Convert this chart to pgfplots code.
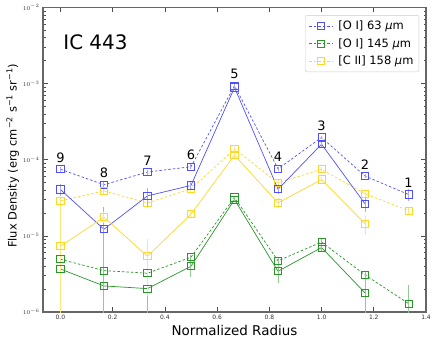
\documentclass[border=0pt]{standalone}
\usepackage{fontspec}
\setmainfont{DejaVu Sans}
\usepackage{pgfplots}
\pgfplotsset{compat=1.18}
\definecolor{cB}{RGB}{80,80,255}
\definecolor{cG}{RGB}{40,150,40}
\definecolor{cY}{RGB}{255,215,40}

\begin{document}
\begin{tikzpicture}
\begin{axis}[
  scale only axis, width=383bp, height=304.5bp,
  ymode=log, ymin=1e-6, ymax=1e-2,
  xmin=-0.0667, xmax=1.4,
  xtick={0,0.2,0.4,0.6,0.8,1.0,1.2,1.4},
  xticklabel style={/pgf/number format/.cd, fixed, fixed zerofill, precision=1, assume math mode=true},
  tick label style={font=\fontsize{6}{7}\selectfont, color=black!80},
  tick align=inside, major tick length=5bp, minor tick length=2.5bp,
  axis line style={black!60, line width=1.1bp},
  every tick/.style={black!70, line width=0.6bp},
  xlabel={Normalized Radius},
  ylabel={Flux Density (erg cm\textsuperscript{−2} s\textsuperscript{−1} sr\textsuperscript{−1})},
  xlabel style={font=\fontsize{13.5}{15}\selectfont, yshift=2bp},
  ylabel style={font=\fontsize{11.5}{14}\selectfont, yshift=-3bp, xshift=4bp},
  legend style={at={(0.982,0.975)}, anchor=north east, draw=black!20, rounded corners=2bp,
    font=\fontsize{11.5}{13}\selectfont, row sep=3.5bp, inner sep=3.5bp, column sep=3bp},
  legend cell align=left,
  legend image code/.code={\draw[#1, mark repeat=2, mark phase=2] plot coordinates {(0bp,0bp) (12bp,0bp) (24bp,0bp)};},
  error bars/y dir=both, error bars/y explicit, error bars/error mark=none,
  every axis plot/.append style={line width=0.7bp, mark=square, mark size=3.6bp,
    mark options={solid, line width=0.9bp, fill=none}},
]
% [O I] 63 um, dotted
\addplot[cB, dash pattern=on 2.5bp off 2bp, error bars/error bar style={cB!50, line width=1bp, solid}] coordinates {
 (0,7.5e-5) +- (0,0.5e-5)
 (0.16667,4.7e-5) +- (0,0.4e-5)
 (0.33333,6.9e-5) +- (0,0.5e-5)
 (0.5,8.1e-5) +- (0,0.6e-5)
 (0.66667,9.4e-4) +- (0,0.5e-4)
 (0.83333,7.6e-5) +- (0,0.5e-5)
 (1.0,1.96e-4) +- (0,0.1e-4)
 (1.16667,6.1e-5) +- (0,0.4e-5)
 (1.33333,3.5e-5) +- (0,0.6e-5)
};
\addlegendentry{[O I] 63 \textit{μ}m}
% [O I] 145 um, dotted
\addplot[cG, dash pattern=on 2.5bp off 2bp, error bars/error bar style={cG!50, line width=1bp, solid}] coordinates {
 (0,4.93e-6) +- (0,0.3e-6)
 (0.16667,3.5e-6) +- (0,0.5e-6)
 (0.33333,3.23e-6) +- (0,0.4e-6)
 (0.5,5.24e-6) +- (0,0.4e-6)
 (0.66667,3.19e-5) +- (0,0.2e-5)
 (0.83333,4.7e-6) +- (0,0.6e-6)
 (1.0,8.3e-6) +- (0,0.8e-6)
 (1.16667,3.07e-6) +- (0,0.4e-6)
 (1.33333,1.29e-6) +- (0,0.95e-6)
};
\addlegendentry{[O I] 145 \textit{μ}m}
% [C II] 158 um, dotted
\addplot[cY, dash pattern=on 2.5bp off 2bp, error bars/error bar style={cY!60, line width=1bp, solid}] coordinates {
 (0,2.88e-5) +- (0,0.3e-5)
 (0.16667,3.9e-5) +- (0,0.3e-5)
 (0.33333,2.71e-5) +- (0,0.4e-5)
 (0.5,4.14e-5) +- (0,0.3e-5)
 (0.66667,1.38e-4) +- (0,0.1e-4)
 (0.83333,4.97e-5) +- (0,0.4e-5)
 (1.0,7.5e-5) +- (0,0.5e-5)
 (1.16667,3.56e-5) +- (0,0.4e-5)
 (1.33333,2.15e-5) +- (0,0.2e-5)
};
\addlegendentry{[C II] 158 \textit{μ}m}
% solid series
\addplot[cB, forget plot, error bars/error bar style={cB!50, line width=1bp}] coordinates {
 (0,4.07e-5) +- (0,0.7e-5)
 (0.16667,1.22e-5) +- (0,1.2e-5)
 (0.33333,3.35e-5) +- (0,0.95e-5)
 (0.5,4.6e-5) +- (0,0.5e-5)
 (0.66667,8.9e-4) +- (0,0.5e-4)
 (0.83333,4.1e-5) +- (0,0.5e-5)
 (1.0,1.6e-4) +- (0,0.15e-4)
 (1.16667,2.63e-5) +- (0,0.55e-5)
};
\addplot[cG, forget plot, error bars/error bar style={cG!50, line width=1bp}] coordinates {
 (0,3.67e-6) +- (0,0.4e-6)
 (0.16667,2.2e-6) +- (0,2.1e-6)
 (0.33333,2.03e-6) +- (0,1.95e-6)
 (0.5,3.99e-6) +- (0,1.1e-6)
 (0.66667,3.0e-5) +- (0,0.2e-5)
 (0.83333,3.43e-6) +- (0,1.0e-6)
 (1.0,7.03e-6) +- (0,0.7e-6)
 (1.16667,1.78e-6) +- (0,1.7e-6)
};
\addplot[cY, forget plot, error bars/error bar style={cY!60, line width=1bp}] coordinates {
 (0,7.3e-6) += (0,2.5e-5) -= (0,7.2e-6)
 (0.16667,1.76e-5) +- (0,0.3e-5)
 (0.33333,5.4e-6) +- (0,3.8e-6)
 (0.5,1.93e-5) +- (0,0.2e-5)
 (0.66667,1.15e-4) +- (0,0.1e-4)
 (0.83333,2.71e-5) +- (0,0.4e-5)
 (1.0,5.5e-5) +- (0,0.4e-5)
 (1.16667,1.44e-5) +- (0,0.4e-5)
};
\node[anchor=west, font=\fontsize{20}{24}\selectfont] at (rel axis cs:0.044,0.887) {IC 443};
\begin{scope}[every node/.style={anchor=base, yshift=7bp, font=\fontsize{13}{15}\selectfont}]
\node at (axis cs:0,7.5e-5) {9};
\node at (axis cs:0.16667,4.7e-5) {8};
\node at (axis cs:0.33333,6.9e-5) {7};
\node at (axis cs:0.5,8.1e-5) {6};
\node at (axis cs:0.66667,9.4e-4) {5};
\node at (axis cs:0.83333,7.6e-5) {4};
\node at (axis cs:1.0,1.96e-4) {3};
\node at (axis cs:1.16667,6.1e-5) {2};
\node at (axis cs:1.33333,3.5e-5) {1};
\end{scope}
\end{axis}
\path[use as bounding box] ([shift={(-43bp,-30bp)}]current axis.south west) rectangle ([shift={(10bp,7.5bp)}]current axis.north east);
\end{tikzpicture}
\end{document}
